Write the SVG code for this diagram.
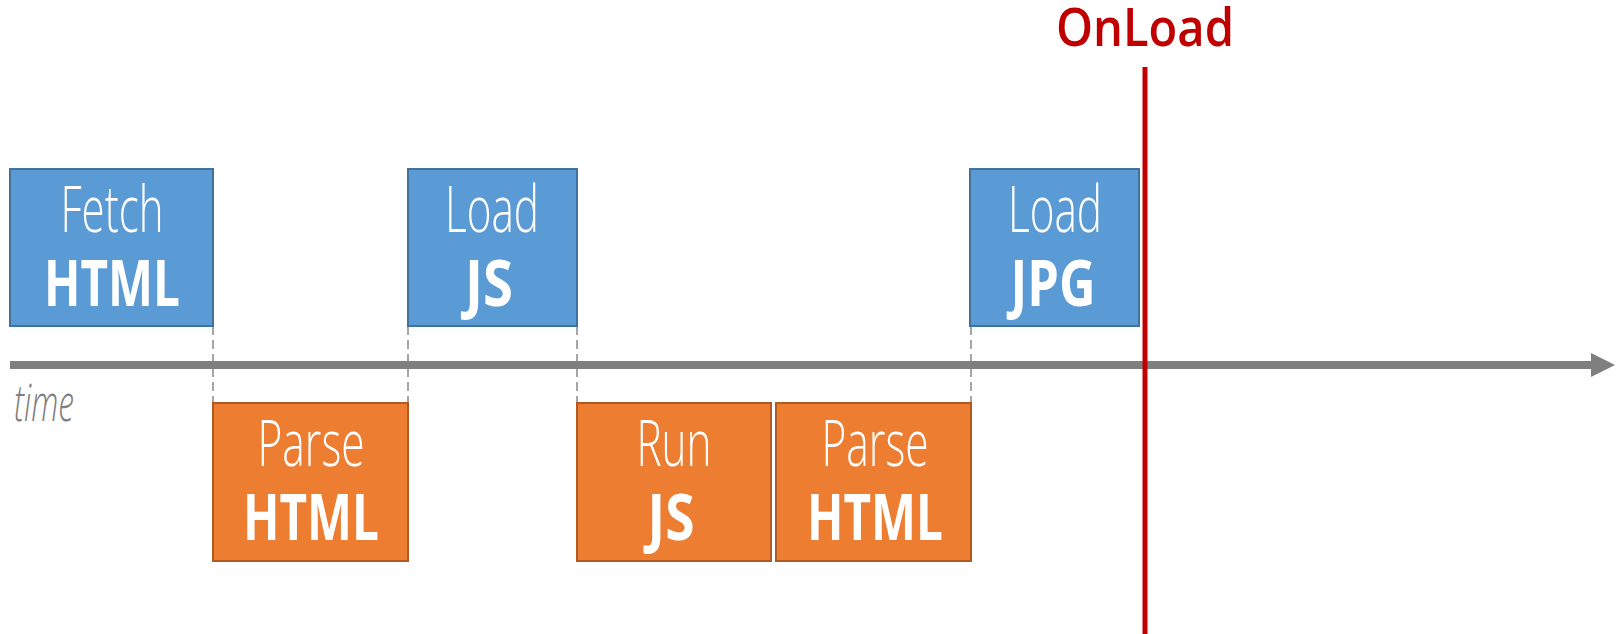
<svg xmlns="http://www.w3.org/2000/svg" width="1623" height="634" viewBox="0 0 1623 634">
  <style>
    .blue { fill: #5B9BD5; stroke: #41719C; stroke-width: 2; }
    .orange { fill: #ED7D31; stroke: #AE5A21; stroke-width: 2; }
    .light { font-family: "Open Sans", "Liberation Sans", sans-serif; font-weight: 300; font-size: 64px; fill: #FFFFFF; text-anchor: middle; }
    .bold { font-family: "Open Sans", "Liberation Sans", sans-serif; font-weight: 700; font-size: 64px; fill: #FFFFFF; text-anchor: middle; }
    .guide { stroke: #A6A6A6; stroke-width: 2; stroke-dasharray: 9 5; fill: none; }
    .axis { stroke: #7F7F7F; stroke-width: 8; fill: none; }
  </style>
  <defs>
    <marker id="axisHead" markerUnits="userSpaceOnUse" markerWidth="24" markerHeight="24" refX="0" refY="12" orient="auto">
      <path d="M0,0 L24,12 L0,24 Z" fill="#7F7F7F"/>
    </marker>
  </defs>
  <rect width="1623" height="634" fill="#FFFFFF"/>

  <!-- connectors: timeline axis and dashed hand-off guides -->
  <g id="connectors">
    <line class="guide" x1="213" y1="326" x2="213" y2="403"/>
    <line class="guide" x1="408" y1="326" x2="408" y2="403"/>
    <line class="guide" x1="577" y1="326" x2="577" y2="403"/>
    <line class="guide" x1="971" y1="326" x2="971" y2="403"/>
    <line class="axis" x1="10" y1="365" x2="1591" y2="365" marker-end="url(#axisHead)"/>
    <text x="14" y="421" font-family="Open Sans, 'Liberation Sans', sans-serif" font-style="italic" font-weight="300" font-size="51" fill="#7F7F7F" textLength="60" lengthAdjust="spacingAndGlyphs">time</text>
  </g>

  <!-- network steps -->
  <g id="fetch-html">
    <rect class="blue" x="10" y="169" width="203" height="157"/>
    <text class="light" x="112" y="232" textLength="103" lengthAdjust="spacingAndGlyphs">Fetch</text>
    <text class="bold" x="112" y="306" textLength="136" lengthAdjust="spacingAndGlyphs">HTML</text>
  </g>
  <g id="load-js">
    <rect class="blue" x="408" y="169" width="169" height="157"/>
    <text class="light" x="492" y="232" textLength="94" lengthAdjust="spacingAndGlyphs">Load</text>
    <text class="bold" x="489" y="306" textLength="48" lengthAdjust="spacingAndGlyphs">JS</text>
  </g>
  <g id="load-jpg">
    <rect class="blue" x="970" y="169" width="169" height="157"/>
    <text class="light" x="1055" y="232" textLength="94" lengthAdjust="spacingAndGlyphs">Load</text>
    <text class="bold" x="1053" y="306" textLength="85" lengthAdjust="spacingAndGlyphs">JPG</text>
  </g>

  <!-- processing steps -->
  <g id="parse-html-1">
    <rect class="orange" x="213" y="403" width="195" height="158"/>
    <text class="light" x="311" y="466" textLength="107" lengthAdjust="spacingAndGlyphs">Parse</text>
    <text class="bold" x="311" y="540" textLength="136" lengthAdjust="spacingAndGlyphs">HTML</text>
  </g>
  <g id="run-js">
    <rect class="orange" x="577" y="403" width="194" height="158"/>
    <text class="light" x="674" y="466" textLength="75" lengthAdjust="spacingAndGlyphs">Run</text>
    <text class="bold" x="671" y="540" textLength="47" lengthAdjust="spacingAndGlyphs">JS</text>
  </g>
  <g id="parse-html-2">
    <rect class="orange" x="776" y="403" width="195" height="158"/>
    <text class="light" x="875" y="466" textLength="107" lengthAdjust="spacingAndGlyphs">Parse</text>
    <text class="bold" x="875" y="540" textLength="136" lengthAdjust="spacingAndGlyphs">HTML</text>
  </g>

  <!-- OnLoad marker -->
  <g id="onload">
    <line x1="1145" y1="67" x2="1145" y2="634" stroke="#C00000" stroke-width="5"/>
    <text x="1145" y="46" font-family="Open Sans, 'Liberation Sans', sans-serif" font-weight="600" font-size="52" fill="#C00000" text-anchor="middle" textLength="178" lengthAdjust="spacingAndGlyphs">OnLoad</text>
  </g>
</svg>
